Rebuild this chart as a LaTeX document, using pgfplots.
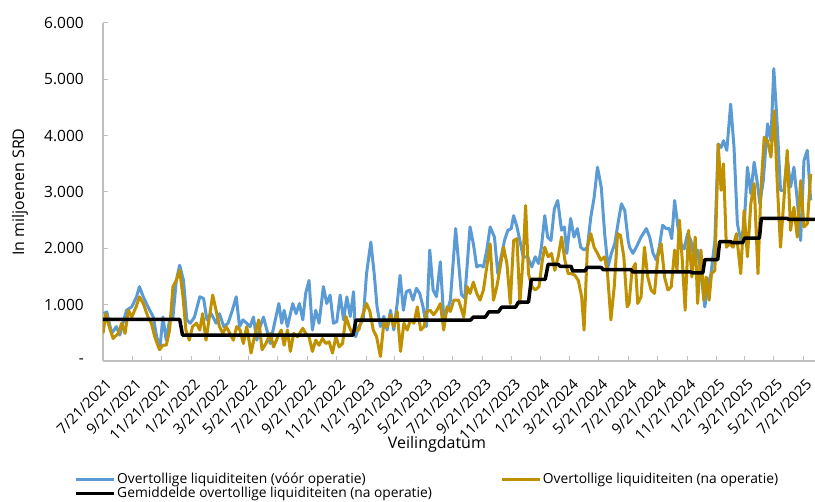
\documentclass[border=0pt]{standalone}
\usepackage{fontspec}
\setmainfont{Open Sans}
\usepackage{pgfplots}
\pgfplotsset{compat=1.18}
\definecolor{voor}{HTML}{5B9BD5}
\definecolor{na}{HTML}{BF9000}
\definecolor{axgray}{HTML}{BFBFBF}

\begin{document}
\begin{tikzpicture}
\path[use as bounding box] (-103pt,-141pt) rectangle (712pt,361pt);
\begin{axis}[
  at={(0pt,0pt)}, anchor=south west,
  scale only axis, width=712pt, height=338pt,
  xmin=0, xmax=1486, ymin=0, ymax=6000,
  axis lines*=left,
  axis line style={draw=axgray, line width=1.5pt},
  tick style={draw=axgray, line width=1pt},
  tick align=inside, major tick length=5pt,
  xtick={0,62,123,184,243,304,365,427,488,549,608,669,730,792,853,914,974,1035,1096,1158,1219,1280,1339,1400,1461},
  xticklabels={7/21/2021,9/21/2021,11/21/2021,1/21/2022,3/21/2022,5/21/2022,7/21/2022,9/21/2022,11/21/2022,1/21/2023,3/21/2023,5/21/2023,7/21/2023,9/21/2023,11/21/2023,1/21/2024,3/21/2024,5/21/2024,7/21/2024,9/21/2024,11/21/2024,1/21/2025,3/21/2025,5/21/2025,7/21/2025},
  xticklabel style={font=\fontsize{14.8}{17}\selectfont, inner sep=0pt, xshift=2pt, yshift=-17pt, rotate=45, anchor=north east},
  ytick={0,1000,2000,3000,4000,5000,6000},
  yticklabels={-,1.000,2.000,3.000,4.000,5.000,6.000},
  yticklabel style={font=\fontsize{15.5}{18}\selectfont, inner sep=0pt, xshift=-19pt, anchor=east},
  xlabel={Veilingdatum},
  xlabel style={font=\fontsize{16}{18}\selectfont, at={(axis description cs:0.469,-0.2456)}, anchor=center},
  ylabel={In miljoenen SRD},
  ylabel style={font=\fontsize{16}{18}\selectfont, at={(axis description cs:-0.1166,0.5)}, anchor=center},
  legend columns=2,
  legend cell align=left,
  legend style={draw=none, fill=none, inner sep=0pt, at={(axis description cs:-0.0407,-0.327)}, anchor=north west,
    font=\fontsize{13.8}{15}\selectfont, row sep=-1pt, nodes={inner sep=1.5pt},
    /tikz/every even column/.append style={column sep=67pt}},
  legend image code/.code={\draw[#1] (0pt,0pt) -- (38pt,0pt);},
  line join=round,
]
\addplot[voor, line width=3pt] coordinates {
(1,840) (8,870) (18,490) (28,610) (35,460) (49,900) (60,960) (70,1140) (76,1320) (84,1140) (94,960) (105,780) (112,430) (119,250) (125,780) (132,370) (139,730) (146,780) (153,1430) (160,1700) (168,1430) (175,730) (182,670) (191,780) (202,1140) (210,1110) (217,730) (226,840) (236,670) (243,840) (252,610) (261,670) (270,900) (278,1140) (285,610) (292,730) (300,670) (307,610) (314,780) (321,370) (328,610) (335,780) (342,550) (349,310) (358,670) (367,1020)
(373,670) (378,900) (385,610) (396,1020) (403,840) (410,1020) (417,730) (423,1200) (430,1430) (437,550) (444,900) (451,670) (460,1320) (467,1020) (474,1170) (481,670) (488,700) (495,1170) (502,730) (509,1140) (516,790) (523,1230) (527,430) (534,610) (543,730) (550,1550) (559,2110) (566,1550) (572,960) (579,610) (586,790) (593,550) (600,900) (607,550) (614,1020) (620,1520) (627,900) (633,1230) (640,1260) (647,1080) (654,1290) (661,1200) (668,960) (675,610) (682,1970) (689,1260) (696,1140) (704,1760) (711,790) (718,880) (725,1080)
(736,2350) (748,1180) (755,1120) (766,2380) (773,2080) (780,1670) (787,1700) (794,1670) (801,1970) (808,2380) (817,2200) (824,1550) (831,1850) (838,2140) (845,2320) (852,2350) (857,2580) (864,2380) (870,2140) (877,1850) (886,1850) (895,1670) (902,1850) (909,1730) (915,2020) (922,2580) (928,2200) (935,2140) (942,2700) (949,2850) (957,2320) (963,2380) (968,1910) (976,2530) (983,2200) (990,2350) (997,2020) (1004,1970) (1011,2020) (1018,2550) (1025,2900) (1032,3440) (1040,3080) (1047,2260) (1054,1670) (1061,1910) (1068,2080) (1076,2500) (1082,2790) (1089,2670) (1096,2140)
(1099,2020) (1106,1910) (1113,2020) (1123,2200) (1134,2350) (1141,2200) (1148,1910) (1155,1790) (1161,2020) (1168,2410) (1175,2350) (1182,2350) (1187,2170) (1193,2850) (1200,2380) (1206,2080) (1213,1990) (1220,2260) (1227,2140) (1234,1790) (1241,1970) (1248,1550) (1256,960) (1262,1320) (1269,1550) (1277,2140) (1284,3850) (1290,3790) (1295,3910) (1302,3740) (1310,4560) (1317,3790) (1324,2440) (1331,2140) (1338,2380) (1345,3440) (1352,2970) (1359,3530) (1365,3200) (1371,2790) (1378,3200) (1387,4210) (1394,3910) (1400,5190) (1407,4210) (1414,3030) (1421,3030) (1428,3620) (1435,3090) (1442,3440) (1449,2850) (1456,2140) (1463,3560) (1470,3740) (1477,2850)
};
\addlegendentry{Overtollige liquiditeiten (vóór operatie)}
\addplot[na, line width=3pt] coordinates {
(0,490) (6,840) (13,610) (21,400) (32,490) (39,670) (46,490) (53,900) (60,780) (69,960) (76,1140) (84,1020) (94,780) (101,670) (108,430) (113,310) (118,200) (125,280) (132,280) (139,550) (146,1320) (153,1430) (160,1610) (167,1140) (173,550) (180,370) (187,610) (195,670) (202,550) (208,840) (215,370) (222,780) (229,1170) (236,900) (243,610) (250,490) (257,610) (265,490) (272,370) (279,610) (286,550) (293,310) (300,610) (309,140) (316,430) (325,730) (332,200) (340,310) (349,490) (356,250) (365,430)
(372,550) (378,280) (385,550) (391,170) (398,490) (406,430) (417,580) (423,490) (430,430) (437,170) (444,370) (451,280) (458,400) (465,310) (472,340) (479,140) (486,430) (493,250) (500,310) (507,790) (514,610) (520,490) (527,550) (534,550) (541,790) (550,1020) (557,880) (564,550) (571,430) (579,80) (586,670) (593,610) (600,820) (607,610) (614,880) (621,170) (628,670) (635,550) (642,730) (649,670) (656,960) (663,550) (670,610) (676,880) (683,900) (690,820) (697,900) (704,1020) (711,550) (718,960) (725,880) (732,1080)
(742,1080) (753,780) (760,1320) (766,1200) (773,1400) (780,1200) (787,1080) (794,1260) (801,1670) (808,2080) (815,1080) (822,1320) (829,1670) (836,2020) (843,1730) (850,1020) (857,2140) (864,2170) (870,1020) (877,1850) (882,2760) (888,1550) (895,1320) (902,1260) (910,1320) (917,1790) (922,2020) (929,1850) (936,1910) (943,1610) (950,1850) (957,2200) (964,1790) (971,1550) (978,1550) (985,1520) (992,1430) (999,1140) (1004,550) (1011,2020) (1018,2260) (1025,2020) (1032,1910) (1039,1790) (1047,1850) (1053,1550) (1060,730) (1067,1320) (1074,2260) (1080,2230) (1087,1850) (1094,960)
(1098,1020) (1104,1610) (1111,1730) (1116,1020) (1123,1140) (1130,2020) (1137,1490) (1144,1260) (1151,1200) (1158,1850) (1165,2080) (1172,1490) (1179,1260) (1186,1320) (1193,1970) (1198,1610) (1203,2500) (1209,1790) (1215,900) (1222,2320) (1229,1490) (1236,2200) (1241,1020) (1248,1970) (1254,1080) (1259,1490) (1265,1080) (1270,1550) (1277,1610) (1284,3850) (1290,3030) (1295,3500) (1301,2020) (1308,2080) (1315,2020) (1322,2260) (1331,1550) (1338,2670) (1345,1850) (1352,2790) (1359,3150) (1367,1550) (1373,3030) (1380,3970) (1387,3910) (1394,3620) (1401,4440) (1407,3200) (1414,2020) (1421,2850) (1428,3740) (1435,2320) (1442,2730) (1449,2200) (1456,3200) (1463,2380) (1470,2440) (1477,3320)
};
\addlegendentry{Overtollige liquiditeiten (na operatie)}
\addplot[black, line width=3.5pt] coordinates {
(0,740) (160,740) (166,460) (522,460) (528,725) (767,725) (773,780) (798,780) (805,870) (825,870) (832,955) (861,955) (867,1045) (888,1045) (894,1450) (923,1450) (929,1715) (950,1715) (954,1680) (977,1680) (980,1600) (1006,1600) (1010,1660) (1040,1660) (1044,1620) (1102,1620) (1106,1580) (1227,1580) (1231,1565) (1252,1565) (1256,1800) (1283,1800) (1287,2120) (1310,2120) (1313,2100) (1335,2100) (1339,2180) (1370,2180) (1374,2530) (1428,2530) (1431,2515) (1486,2515)
};
\addlegendentry{Gemiddelde overtollige liquiditeiten (na operatie)}
\end{axis}
\end{tikzpicture}
\end{document}
